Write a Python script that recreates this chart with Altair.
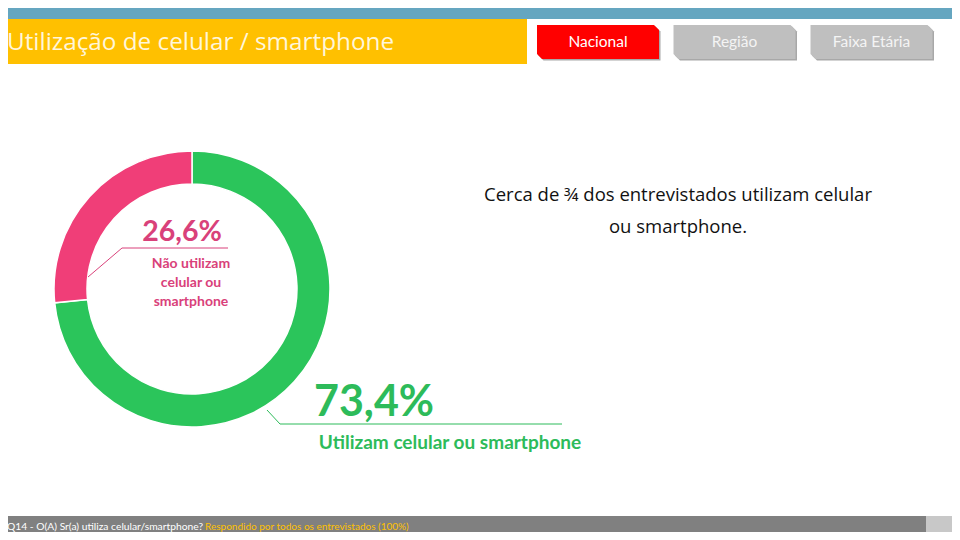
import altair as alt
import pandas as pd

# ---- data ----
categories = ["Utilizam celular ou smartphone", "Não utilizam celular ou smartphone"]
values = [73.4, 26.6]
slice_colors = ["#2BC55B", "#F03E78"]
buttons = ["Nacional", "Região", "Faixa Etária"]
button_colors = ["#FF0000", "#BFBFBF", "#BFBFBF"]
title = "Utilização de celular / smartphone"
note_lines = ["Cerca de ¾ dos entrevistados utilizam celular", "ou smartphone."]
footer_q = "Q14 - O(A) Sr(a) utiliza celular/smartphone?"
footer_r = "Respondido por todos os entrevistados (100%)"

FONT = "Lato"
M = 8  # page margin offset
one = pd.DataFrame({"k": [0]})


def fmt(v):
    return f"{v:.1f}".replace(".", ",") + "%"


def T(txt, x, y, size, color, weight="normal", align="center", font=FONT):
    return alt.Chart(one).mark_text(
        text=txt, fontSize=size, color=color, fontWeight=weight,
        align=align, baseline="alphabetic", font=font
    ).encode(x=alt.value(x - M), y=alt.value(y - M))


def R(x0, x1, y0, y1, color):
    return alt.Chart(one).mark_rect(color=color).encode(
        x=alt.value(x0 - M), x2=alt.value(x1 - M),
        y=alt.value(y0 - M), y2=alt.value(y1 - M))


def L(x0, y0, x1, y1, color):
    return alt.Chart(one).mark_rule(color=color, strokeWidth=1).encode(
        x=alt.value(x0 - M), y=alt.value(y0 - M),
        x2=alt.value(x1 - M), y2=alt.value(y1 - M))


layers = []
# header
layers.append(R(0, 960, 0, 19, "#65A6C0"))
layers.append(R(0, 527, 19, 64, "#FFC000"))
layers.append(T(title, 7, 50, 24.3, "#FFF6DA", align="left", font="Open Sans"))

# buttons (chamfered shape)
btn_path = "M -1 -0.279 L 0.918 -0.279 L 1 -0.197 L 1 0.279 L -0.918 0.279 L -1 0.197 Z"
btn_x = [598, 734.5, 871.5]
for name, col, cx in zip(buttons, button_colors, btn_x):
    layers.append(alt.Chart(one).mark_point(
        shape=btn_path, filled=True, color="#A8A8A8", opacity=1, size=122 * 122, strokeWidth=0
    ).encode(x=alt.value(cx - M + 1.5), y=alt.value(42 - M + 1.5)))
    layers.append(alt.Chart(one).mark_point(
        shape=btn_path, filled=True, color=col, opacity=1, size=122 * 122, strokeWidth=0
    ).encode(x=alt.value(cx - M), y=alt.value(42 - M)))
    layers.append(T(name, cx, 47, 15.5, "#FFFFFF" if col == "#FF0000" else "#F4F4F4"))

# donut
df = pd.DataFrame({"cat": categories, "value": values, "ord": [0, 1]})
donut = alt.Chart(df).mark_arc(innerRadius=105, outerRadius=138, stroke="white", strokeWidth=1.5).encode(
    theta=alt.Theta("value:Q", stack=True),
    color=alt.Color("cat:N", scale=alt.Scale(domain=categories, range=slice_colors), legend=None),
    order=alt.Order("ord:Q"),
    x=alt.value(192 - M), y=alt.value(289 - M),
)
layers.append(donut)

# pink label
pink_txt = "#D9417A"
layers.append(L(88, 277, 122, 248, pink_txt))
layers.append(L(122, 248, 228, 248, pink_txt))
layers.append(T(fmt(values[1]), 182, 241, 28.5, pink_txt, weight="bold"))
for i, ln in enumerate(["Não utilizam", "celular ou", "smartphone"]):
    layers.append(T(ln, 191, 268 + 19 * i, 14, pink_txt, weight="bold"))

# green label
green_txt = "#2DBB5A"
layers.append(L(267, 410, 280, 424, green_txt))
layers.append(L(280, 424, 562, 424, green_txt))
layers.append(T(fmt(values[0]), 374, 416, 43, green_txt, weight="bold"))
layers.append(T(categories[0], 450, 449, 19, green_txt, weight="bold"))

# note
layers.append(T(note_lines[0], 678, 201, 18.5, "#111111", font="Open Sans"))
layers.append(T(note_lines[1], 678, 233, 18.5, "#111111", font="Open Sans"))

# footer
layers.append(R(0, 926, 516, 540, "#808080"))
layers.append(R(926, 960, 516, 540, "#C8C8C8"))
layers.append(T(footer_q, 7, 530, 10.3, "#FFFFFF", align="left"))
layers.append(T(footer_r, 205, 530, 10, "#FFC000", align="left"))

chart = alt.layer(*layers).properties(
    width=944, height=524,
    autosize=alt.AutoSizeParams(type="none"), padding=0,
).configure_view(stroke=None)

chart.save("out.html", embed_options={"renderer": "svg", "actions": False})
